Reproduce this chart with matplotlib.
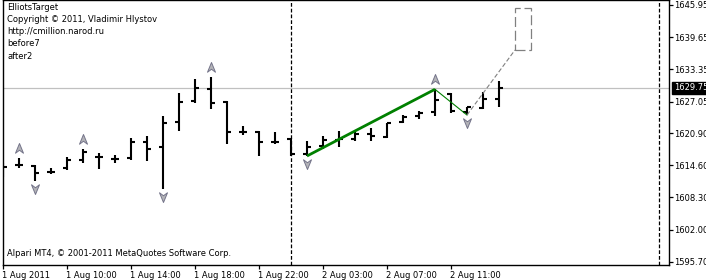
import matplotlib
matplotlib.use("Agg")
import matplotlib.pyplot as plt
from matplotlib.path import Path
from matplotlib.patches import Rectangle
import matplotlib.transforms as mtransforms

# ---- data (H1 bars) ----
opens  = [1614.30, 1614.64, 1614.45, 1613.27, 1613.99, 1615.52, 1616.11, 1615.76,
          1616.05, 1619.20, 1618.10, 1623.11, 1627.16, 1629.51, 1626.91, 1621.04,
          1621.16, 1619.20, 1619.73, 1616.73, 1618.36, 1619.53, 1619.67, 1620.71,
          1620.06, 1623.00, 1624.23, 1624.95, 1628.47, 1625.07, 1625.85, 1627.55]
highs  = [1614.97, 1615.95, 1614.64, 1613.99, 1616.15, 1617.71, 1616.93, 1616.60,
          1619.86, 1620.31, 1624.23, 1628.67, 1631.41, 1631.92, 1627.22, 1622.33,
          1621.35, 1621.16, 1619.86, 1619.33, 1620.31, 1621.29, 1621.35, 1621.82,
          1622.92, 1624.42, 1625.26, 1629.45, 1628.67, 1626.05, 1628.87, 1631.08]
lows   = [1612.35, 1614.05, 1611.60, 1612.78, 1613.66, 1614.97, 1613.80, 1614.97,
          1615.62, 1615.42, 1609.88, 1621.35, 1626.83, 1625.54, 1618.75, 1620.51,
          1616.46, 1618.75, 1616.46, 1616.40, 1617.71, 1618.10, 1619.33, 1619.33,
          1619.86, 1622.80, 1623.58, 1624.23, 1624.76, 1624.42, 1625.60, 1626.05]
closes = [1614.30, 1614.64, 1613.17, 1613.27, 1615.52, 1617.24, 1616.11, 1615.76,
          1619.20, 1617.71, 1622.92, 1626.91, 1629.65, 1626.83, 1621.16, 1621.04,
          1619.20, 1619.20, 1616.73, 1618.10, 1619.53, 1619.73, 1620.71, 1620.22,
          1622.80, 1624.09, 1624.76, 1627.36, 1625.21, 1626.05, 1627.55, 1629.75]

time_tick_bars = [0, 4, 8, 12, 16, 20, 24, 28]
time_labels = ["1 Aug 2011", "1 Aug 10:00", "1 Aug 14:00", "1 Aug 18:00",
               "1 Aug 22:00", "2 Aug 03:00", "2 Aug 07:00", "2 Aug 11:00"]
price_ticks = [1645.95, 1639.65, 1633.35, 1627.05, 1620.90, 1614.60,
               1608.30, 1602.00, 1595.70]
current_price = 1629.75

fractal_up = [1, 5, 13, 27]
fractal_down = [2, 10, 19, 29]
wave_bars = [19, 27, 29]           # low, high, low
target_line_end = (32, 1637.14)
target_box_bars = [32, 33]
target_box_prices = [1637.14, 1645.36]
vlines_bars = [18, 41]

info_lines = ["ElliotsTarget", "Copyright \u00a9 2011, Vladimir Hlystov",
              "http://cmillion.narod.ru", "before7", "after2"]
footer = "Alpari MT4, \u00a9 2001-2011 MetaQuotes Software Corp."

# ---- figure ----
W, H = 706, 280
fig = plt.figure(figsize=(W / 100, H / 100), dpi=100)
fig.patch.set_facecolor("white")
ax_left, ax_right, ax_top, ax_bot = 2.5, 669, 0, 265
ax = fig.add_axes([ax_left / W, (H - ax_bot) / H, (ax_right - ax_left) / W, (ax_bot - ax_top) / H])
ax.set_facecolor("white")

px_per_bar = 16.0
x0 = -0.03
ax.set_xlim(x0, x0 + (ax_right - ax_left) / px_per_bar)
ppu = 5.11
ax.set_ylim(1645.95 - (ax_bot - 5) / ppu, 1645.95 + 5 / ppu)

for s in ax.spines.values():
    s.set_color("black")
    s.set_linewidth(1.0)

# current price line
ax.axhline(current_price, color="#c0c0c0", lw=0.9, zorder=1)

# vertical separators
for b in vlines_bars:
    ax.axvline(b, color="black", lw=0.9, linestyle=(0, (3, 1.6)), zorder=1)

# OHLC bars
lw_bar = 1.5
n = len(opens)
xs = list(range(n))
tick = 0.27
ax.vlines(xs, lows, highs, color="black", lw=lw_bar, zorder=3)
ax.hlines(opens, [x - tick for x in xs], xs, color="black", lw=lw_bar, zorder=3)
ax.hlines(closes, xs, [x + tick for x in xs], color="black", lw=lw_bar, zorder=3)

# wave lines
p0 = (wave_bars[0], lows[wave_bars[0]])
p1 = (wave_bars[1], highs[wave_bars[1]])
p2 = (wave_bars[2], lows[wave_bars[2]])
ax.plot([p0[0], p1[0]], [p0[1], p1[1]], color="#008000", lw=2.0, zorder=4, solid_capstyle="butt")
ax.plot([p1[0], p2[0]], [p1[1], p2[1]], color="#008000", lw=0.8, zorder=4)

# target projection
ax.plot([p2[0], target_line_end[0]], [p2[1], target_line_end[1]], color="#808080",
        lw=0.8, linestyle=(0, (4, 2)), zorder=4)
ax.add_patch(Rectangle((target_box_bars[0], target_box_prices[0]),
                       target_box_bars[1] - target_box_bars[0],
                       target_box_prices[1] - target_box_prices[0],
                       fill=False, ec="#808080", lw=0.9, linestyle=(0, (8, 3)), zorder=4))

# fractal arrows
up_path = Path([(0, 1), (0.8, -0.95), (0, -0.35), (-0.8, -0.95), (0, 1)],
               [Path.MOVETO, Path.LINETO, Path.LINETO, Path.LINETO, Path.CLOSEPOLY])
down_path = Path([(0, -1), (0.8, 0.95), (0, 0.35), (-0.8, 0.95), (0, -1)],
                 [Path.MOVETO, Path.LINETO, Path.LINETO, Path.LINETO, Path.CLOSEPOLY])
tr_up = mtransforms.offset_copy(ax.transData, fig=fig, x=0, y=7.2, units="points")
tr_dn = mtransforms.offset_copy(ax.transData, fig=fig, x=0, y=-5.8, units="points")
ax.plot(fractal_up, [highs[i] for i in fractal_up], linestyle="none", marker=up_path,
        ms=7.2, mfc="#b4b4b8", mec="#74748a", mew=0.7, transform=tr_up, zorder=5, clip_on=False)
ax.plot(fractal_down, [lows[i] for i in fractal_down], linestyle="none", marker=down_path,
        ms=7.2, mfc="#b4b4b8", mec="#74748a", mew=0.7, transform=tr_dn, zorder=5, clip_on=False)

# axes ticks
ax.set_xticks(time_tick_bars)
ax.set_xticklabels(time_labels, ha="left")
ax.tick_params(axis="x", direction="out", length=3, width=0.9, pad=1.5, labelsize=6, colors="black")
trans_off = mtransforms.ScaledTranslation(-1 / 100, 0, fig.dpi_scale_trans)
for lab in ax.get_xticklabels():
    lab.set_transform(lab.get_transform() + trans_off)

ax.yaxis.tick_right()
ax.set_yticks(price_ticks)
ax.set_yticklabels([f"{v:.2f}" for v in price_ticks])
ax.tick_params(axis="y", direction="out", length=3, width=0.9, pad=0.8, labelsize=6, colors="black")

# current price label
lbl = ax.text(1.0, current_price, f"{current_price:.2f}",
              ha="left", va="center", fontsize=6, color="white",
              bbox=dict(boxstyle="square,pad=0.2", fc="black", ec="black"),
              zorder=10, clip_on=False)
lbl.set_transform(ax.get_yaxis_transform() + mtransforms.ScaledTranslation(5 / 100, 0, fig.dpi_scale_trans))

# info text
for k, line in enumerate(info_lines):
    fig.text(7 / W, 1 - (7 + 12.3 * k) / H, line, ha="left", va="center", fontsize=6, color="black")
fig.text(7 / W, 1 - 254 / H, footer, ha="left", va="center", fontsize=6, color="black")

fig.savefig("out.png", dpi=100, facecolor="white")
